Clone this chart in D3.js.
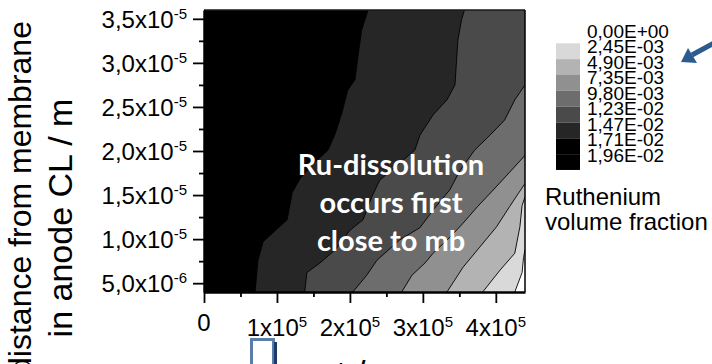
<!DOCTYPE html>
<html>
<head>
<meta charset="utf-8">
<script src="https://cdn.jsdelivr.net/npm/d3@7"></script>
<style>
  body { margin: 0; background: #fff; }
  text { font-family: "Liberation Sans", Arial, sans-serif; fill: #000; }
</style>
</head>
<body>
<div id="chart"></div>
<script>
// Ru volume fraction isolines, [t / s, distance / m]
var iso1715 = [[70000, 4.0e-6], [74000, 7.6e-6], [81000, 9.7e-6], [114000, 12.2e-6], [121000, 15.3e-6],
  [132000, 16.9e-6], [148000, 18.4e-6], [170000, 20.1e-6], [180000, 22.0e-6], [189000, 24.3e-6],
  [197000, 26.9e-6], [207000, 28.1e-6], [211000, 30.7e-6], [216000, 33.7e-6], [225000, 36.0e-6]];
var iso1470 = [[138000, 4.0e-6], [141000, 6.2e-6], [159000, 7.3e-6], [180000, 8.8e-6], [200000, 11.0e-6],
  [218000, 12.2e-6], [230000, 14.8e-6], [241000, 16.7e-6], [268000, 18.6e-6], [289000, 20.1e-6],
  [296000, 21.8e-6], [314000, 24.1e-6], [333000, 25.8e-6], [344000, 27.5e-6], [348000, 32.6e-6],
  [353000, 34.9e-6], [357000, 36.0e-6]];
var iso1225 = [[204000, 4.0e-6], [223000, 5.9e-6], [237000, 7.6e-6], [268000, 9.9e-6], [296000, 11.3e-6],
  [314000, 13.3e-6], [337000, 15.6e-6], [351000, 17.8e-6], [371000, 20.1e-6], [392000, 21.8e-6],
  [412000, 23.5e-6], [426000, 25.8e-6], [440000, 27.5e-6]];
var iso980 = [[271000, 4.0e-6], [285000, 5.9e-6], [303000, 7.3e-6], [314000, 8.4e-6], [337000, 10.2e-6],
  [355000, 11.8e-6], [375000, 13.7e-6], [399000, 15.8e-6], [419000, 17.6e-6], [440000, 19.5e-6]];
var iso735 = [[333000, 4.0e-6], [355000, 6.8e-6], [378000, 9.1e-6], [401000, 11.4e-6], [419000, 13.7e-6],
  [431000, 15.2e-6], [440000, 16.3e-6]];
var iso490 = [[382000, 4.0e-6], [406000, 6.5e-6], [426000, 8.4e-6], [433000, 11.4e-6], [436000, 13.8e-6],
  [440000, 14.8e-6]];
var iso245 = [[426000, 4.0e-6], [436000, 6.2e-6], [438000, 7.9e-6], [440000, 8.8e-6]];

var levels = [0.01715, 0.0147, 0.01225, 0.0098, 0.00735, 0.0049, 0.00245];
var isolines = [iso1715, iso1470, iso1225, iso980, iso735, iso490, iso245];

// legend
var legendValues = [0, 0.00245, 0.0049, 0.00735, 0.0098, 0.01225, 0.0147, 0.01715, 0.0196];
var legendLabels = ["0,00E+00", "2,45E-03", "4,90E-03", "7,35E-03", "9,80E-03",
  "1,23E-02", "1,47E-02", "1,71E-02", "1,96E-02"];
var bandColors = ["#ffffff", "#d9d9d9", "#b3b3b3", "#909090", "#6d6d6d", "#4a4a4a", "#262626", "#000000", "#000000"];

// axes ticks
var xTickValues = [0, 1e5, 2e5, 3e5, 4e5];
var xTickBase = ["0", "1x10", "2x10", "3x10", "4x10"];
var xTickExp = ["", "5", "5", "5", "5"];
var xMinor = [0.5e5, 1.5e5, 2.5e5, 3.5e5];
var yTickValues = [5e-6, 1e-5, 1.5e-5, 2e-5, 2.5e-5, 3e-5, 3.5e-5];
var yTickBase = ["5,0x10", "1,0x10", "1,5x10", "2,0x10", "2,5x10", "3,0x10", "3,5x10"];
var yTickExp = ["-6", "-5", "-5", "-5", "-5", "-5", "-5"];
var yMinor = [7.5e-6, 1.25e-5, 1.75e-5, 2.25e-5, 2.75e-5, 3.25e-5];

var margin = {top: 10, left: 204},
    width = 321,
    height = 282;

var svg = d3.select("#chart")
  .append("svg")
    .attr("width", 712)
    .attr("height", 364);

var g = svg.append("g")
    .attr("transform", "translate(" + margin.left + "," + margin.top + ")");

var x = d3.scaleLinear().domain([0, 4.4e5]).range([0, width]);
var y = d3.scaleLinear().domain([4e-6, 3.6e-5]).range([height, 0]);
var fillColor = d3.scaleThreshold().domain(legendValues.slice(1)).range(bandColors);

g.append("clipPath").attr("id", "plotclip")
  .append("rect").attr("width", width).attr("height", height);

var plot = g.append("g").attr("clip-path", "url(#plotclip)");

plot.append("rect")
    .attr("width", width)
    .attr("height", height)
    .style("fill", fillColor(0.019));

var line = d3.line()
    .x(function (d) { return x(d[0]); })
    .y(function (d) { return y(d[1]); });

// filled bands: everything right of an isoline is lighter
isolines.forEach(function (pts, i) {
  var poly = pts.slice();
  var last = pts[pts.length - 1];
  if (last[1] >= y.domain()[1]) poly.push([x.domain()[1], y.domain()[1]]);
  poly.push([x.domain()[1], y.domain()[0]]);
  plot.append("path")
      .attr("d", line(poly) + "Z")
      .style("fill", fillColor(levels[i] - 1e-4));
});

isolines.forEach(function (pts) {
  plot.append("path")
      .attr("d", line(pts))
      .style("fill", "none")
      .style("stroke", "#000")
      .style("stroke-width", 0.9);
});

// frame
g.append("line").attr("x1", 0).attr("x2", width).attr("y1", 0).attr("y2", 0)
    .style("stroke", "#1a1a1a").style("stroke-width", 1.5);
g.append("line").attr("x1", width).attr("x2", width).attr("y1", 0).attr("y2", height)
    .style("stroke", "#000").style("stroke-width", 1.5);

// axes
g.append("g")
    .attr("transform", "translate(0," + height + ")")
    .call(d3.axisBottom(x).tickValues(xTickValues).tickSize(11).tickSizeOuter(0).tickFormat(""));
g.append("g")
    .attr("transform", "translate(0," + height + ")")
    .call(d3.axisBottom(x).tickValues(xMinor).tickSize(5).tickSizeOuter(0).tickFormat(""))
    .select(".domain").remove();
g.append("g")
    .call(d3.axisLeft(y).tickValues(yTickValues).tickSize(11).tickSizeOuter(0).tickFormat(""));
g.append("g")
    .call(d3.axisLeft(y).tickValues(yMinor).tickSize(5).tickSizeOuter(0).tickFormat(""))
    .select(".domain").remove();

g.selectAll(".tick line").style("stroke-width", 1.8);
g.selectAll(".domain").style("stroke-width", 2.5);

xTickValues.forEach(function (v, i) {
  var t = g.append("text")
      .attr("x", x(v))
      .attr("y", height + (xTickExp[i] ? 44 : 39))
      .attr("text-anchor", "middle")
      .style("font-size", "24px");
  t.append("tspan").text(xTickBase[i]);
  if (xTickExp[i]) t.append("tspan").attr("dy", -9).style("font-size", "15px").text(xTickExp[i]);
});

yTickValues.forEach(function (v, i) {
  var t = g.append("text")
      .attr("x", -17)
      .attr("y", y(v) + 9)
      .attr("text-anchor", "end")
      .style("font-size", "24px");
  t.append("tspan").text(yTickBase[i]);
  t.append("tspan").attr("dy", -9).style("font-size", "15px").text(yTickExp[i]);
});

// axis titles
svg.append("text")
    .attr("transform", "translate(31,198) rotate(-90)")
    .attr("text-anchor", "middle")
    .style("font-size", "32px")
    .text("distance from membrane");
svg.append("text")
    .attr("transform", "translate(72,218) rotate(-90)")
    .attr("text-anchor", "middle")
    .style("font-size", "34px")
    .text("in anode CL / m");
svg.append("text")
    .attr("x", margin.left + width / 2)
    .attr("y", 386)
    .attr("text-anchor", "middle")
    .style("font-size", "35px")
    .text("t / s");

// annotation
var note = ["Ru-dissolution", "occurs first", "close to mb"];
note.forEach(function (s, i) {
  svg.append("text")
      .attr("x", 391)
      .attr("y", 175 + i * 38)
      .attr("text-anchor", "middle")
      .style("font-family", "Lato, 'Open Sans', sans-serif")
      .style("font-weight", "bold")
      .style("font-size", "29px")
      .style("fill", "#fff")
      .text(s);
});

// legend
var swatchY = d3.scaleLinear().domain([0.00245, 0.01715]).range([43.3, 138.3]);
var labelY = d3.scaleLinear().domain([0, 0.0196]).range([30.7, 155]);
var step = legendValues[1] - legendValues[0];

svg.selectAll("rect.swatch")
    .data(legendValues)
    .enter()
    .append("rect")
      .attr("class", "swatch")
      .attr("x", 556)
      .attr("width", 24)
      .attr("y", function (d) { return swatchY(d); })
      .attr("height", function (d) { return swatchY(d + step) - swatchY(d); })
      .style("fill", function (d) { return fillColor(d + step / 2); });

svg.selectAll("text.leg")
    .data(legendValues)
    .enter()
    .append("text")
      .attr("class", "leg")
      .attr("x", 587)
      .attr("y", function (d) { return labelY(d) + 7; })
      .style("font-size", "19px")
      .text(function (d, i) { return legendLabels[i]; });

svg.append("text").attr("x", 545).attr("y", 205).style("font-size", "24px").text("Ruthenium");
svg.append("text").attr("x", 545).attr("y", 230).style("font-size", "24px").text("volume fraction");

// blue arrow pointing at the legend
svg.append("line")
    .attr("x1", 714).attr("y1", 43).attr("x2", 692).attr("y2", 55)
    .style("stroke", "#2b5b8f").style("stroke-width", 5);
svg.append("path")
    .attr("d", "M681,62 L688,48 L697,63 Z")
    .style("fill", "#2b5b8f");

// blue box under the x axis
svg.append("rect")
    .attr("x", 251.5).attr("y", 339.5).attr("width", 22).attr("height", 30)
    .style("fill", "#fff").style("stroke", "#5b7dab").style("stroke-width", 3);
svg.append("line")
    .attr("x1", 275.5).attr("x2", 275.5).attr("y1", 342).attr("y2", 364)
    .style("stroke", "#1c3a66").style("stroke-width", 3);
</script>
</body>
</html>
